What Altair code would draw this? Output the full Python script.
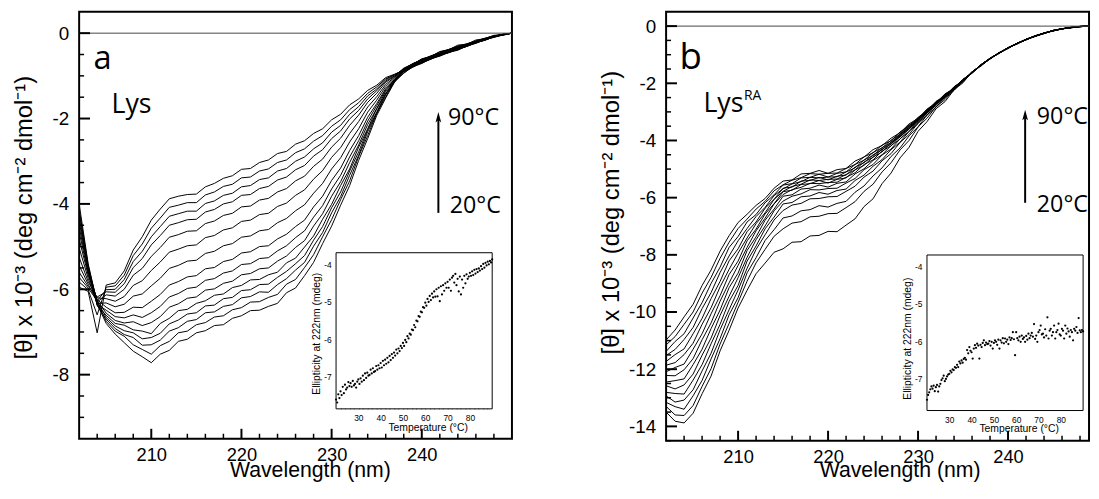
import altair as alt
import pandas as pd

# ---------------- data ----------------
wavelengths = list(range(202, 251))
temperatures = [20 + 0.5 * k for k in range(141)]

# Panel a: Lys, one spectrum per temperature (20 -> 90 C)
lys = [
    [-4.00, -5.40, -6.35, -6.80, -7.05, -7.25, -7.45, -7.58, -7.72, -7.52, -7.43, -7.22, -7.17, -7.02, -6.97, -6.85, -6.83, -6.68, -6.62, -6.50, -6.49, -6.40, -6.33, -6.08, -5.97, -5.68, -5.37, -4.93, -4.52, -4.03, -3.57, -2.98, -2.47, -1.93, -1.52, -1.14, -0.93, -0.79, -0.71, -0.60, -0.54, -0.45, -0.40, -0.30, -0.24, -0.15, -0.10, -0.04, 0.0],
    [-4.12, -5.44, -6.30, -6.75, -6.98, -7.10, -7.30, -7.41, -7.52, -7.32, -7.22, -7.02, -6.98, -6.83, -6.78, -6.65, -6.62, -6.48, -6.43, -6.30, -6.29, -6.19, -6.12, -5.88, -5.77, -5.49, -5.19, -4.77, -4.37, -3.90, -3.46, -2.89, -2.40, -1.88, -1.49, -1.12, -0.94, -0.78, -0.70, -0.61, -0.52, -0.45, -0.38, -0.31, -0.22, -0.16, -0.08, -0.04, 0.0],
    [-4.21, -5.47, -6.38, -6.70, -6.92, -7.06, -7.13, -7.31, -7.30, -7.19, -6.98, -6.90, -6.75, -6.71, -6.55, -6.53, -6.40, -6.36, -6.20, -6.17, -6.06, -6.07, -5.89, -5.75, -5.55, -5.37, -4.99, -4.67, -4.21, -3.83, -3.33, -2.86, -2.31, -1.88, -1.44, -1.14, -0.90, -0.80, -0.68, -0.61, -0.51, -0.46, -0.37, -0.31, -0.22, -0.17, -0.08, -0.05, 0.0],
    [-4.31, -5.50, -6.28, -6.66, -6.86, -6.97, -7.02, -7.16, -7.13, -7.03, -6.81, -6.72, -6.58, -6.55, -6.39, -6.37, -6.22, -6.19, -6.03, -6.01, -5.89, -5.88, -5.72, -5.58, -5.40, -5.21, -4.85, -4.53, -4.09, -3.72, -3.23, -2.78, -2.26, -1.85, -1.41, -1.13, -0.89, -0.78, -0.69, -0.59, -0.53, -0.44, -0.38, -0.29, -0.23, -0.15, -0.09, -0.03, 0.0],
    [-4.41, -5.54, -6.37, -6.61, -6.80, -6.84, -6.95, -6.98, -7.04, -6.80, -6.68, -6.50, -6.47, -6.33, -6.27, -6.14, -6.11, -5.96, -5.91, -5.78, -5.77, -5.66, -5.60, -5.38, -5.27, -5.01, -4.75, -4.36, -4.01, -3.57, -3.18, -2.67, -2.24, -1.77, -1.42, -1.10, -0.90, -0.77, -0.70, -0.58, -0.53, -0.43, -0.39, -0.29, -0.22, -0.16, -0.08, -0.04, 0.0],
    [-4.53, -5.58, -6.26, -6.56, -6.73, -6.79, -6.76, -6.85, -6.78, -6.64, -6.42, -6.34, -6.21, -6.18, -6.02, -5.99, -5.86, -5.81, -5.66, -5.63, -5.52, -5.50, -5.34, -5.22, -5.02, -4.86, -4.52, -4.23, -3.82, -3.48, -3.03, -2.62, -2.14, -1.77, -1.36, -1.11, -0.88, -0.78, -0.67, -0.60, -0.50, -0.45, -0.36, -0.31, -0.21, -0.16, -0.09, -0.03, 0.0],
    [-4.66, -5.62, -6.35, -6.49, -6.64, -6.67, -6.60, -6.66, -6.55, -6.40, -6.18, -6.10, -5.98, -5.95, -5.79, -5.75, -5.62, -5.57, -5.42, -5.40, -5.28, -5.26, -5.10, -4.98, -4.79, -4.63, -4.31, -4.04, -3.65, -3.33, -2.90, -2.52, -2.06, -1.70, -1.33, -1.09, -0.87, -0.77, -0.68, -0.58, -0.51, -0.43, -0.37, -0.29, -0.22, -0.15, -0.09, -0.04, 0.0],
    [-4.82, -5.67, -6.24, -6.42, -6.55, -6.54, -6.42, -6.43, -6.28, -6.12, -5.90, -5.82, -5.71, -5.68, -5.52, -5.49, -5.35, -5.30, -5.15, -5.12, -5.00, -4.98, -4.82, -4.71, -4.53, -4.38, -4.07, -3.82, -3.45, -3.16, -2.75, -2.40, -1.97, -1.65, -1.30, -1.08, -0.86, -0.76, -0.66, -0.59, -0.50, -0.44, -0.35, -0.30, -0.22, -0.16, -0.08, -0.04, 0.0],
    [-5.03, -5.74, -6.33, -6.32, -6.41, -6.35, -6.16, -6.11, -5.92, -5.74, -5.51, -5.44, -5.34, -5.32, -5.16, -5.11, -4.98, -4.93, -4.78, -4.75, -4.63, -4.60, -4.44, -4.34, -4.16, -4.02, -3.75, -3.52, -3.18, -2.92, -2.55, -2.24, -1.85, -1.57, -1.25, -1.05, -0.85, -0.75, -0.65, -0.57, -0.49, -0.43, -0.35, -0.28, -0.21, -0.15, -0.08, -0.03, 0.0],
    [-5.25, -5.82, -6.20, -6.22, -6.28, -6.17, -5.91, -5.80, -5.56, -5.36, -5.13, -5.06, -4.98, -4.96, -4.79, -4.74, -4.61, -4.56, -4.41, -4.38, -4.25, -4.22, -4.06, -3.98, -3.80, -3.67, -3.42, -3.22, -2.91, -2.68, -2.35, -2.07, -1.73, -1.49, -1.20, -1.03, -0.84, -0.74, -0.64, -0.56, -0.48, -0.41, -0.34, -0.27, -0.21, -0.14, -0.08, -0.03, 0.0],
    [-5.44, -5.88, -6.30, -6.13, -6.16, -6.00, -5.67, -5.51, -5.23, -5.02, -4.78, -4.72, -4.64, -4.63, -4.46, -4.40, -4.27, -4.22, -4.07, -4.05, -3.91, -3.87, -3.72, -3.64, -3.46, -3.35, -3.12, -2.95, -2.67, -2.46, -2.16, -1.92, -1.62, -1.41, -1.15, -1.01, -0.83, -0.73, -0.63, -0.55, -0.47, -0.40, -0.33, -0.27, -0.20, -0.14, -0.07, -0.03, 0.0],
    [-5.60, -5.93, -6.18, -6.06, -6.07, -5.87, -5.49, -5.28, -4.96, -4.74, -4.50, -4.44, -4.37, -4.36, -4.19, -4.13, -4.00, -3.95, -3.80, -3.78, -3.64, -3.59, -3.44, -3.37, -3.20, -3.10, -2.88, -2.73, -2.47, -2.29, -2.01, -1.81, -1.54, -1.35, -1.12, -1.00, -0.82, -0.72, -0.62, -0.54, -0.46, -0.39, -0.32, -0.26, -0.19, -0.13, -0.07, -0.03, 0.0],
    [-5.72, -5.97, -6.27, -6.01, -6.00, -5.77, -5.35, -5.11, -4.77, -4.53, -4.29, -4.23, -4.17, -4.17, -3.99, -3.93, -3.80, -3.75, -3.60, -3.57, -3.43, -3.39, -3.23, -3.17, -3.00, -2.90, -2.71, -2.57, -2.32, -2.16, -1.90, -1.72, -1.47, -1.31, -1.09, -0.98, -0.84, -0.71, -0.63, -0.53, -0.47, -0.38, -0.32, -0.25, -0.19, -0.12, -0.07, -0.02, 0.0],
    [-5.83, -6.01, -6.60, -5.95, -5.92, -5.67, -5.21, -4.94, -4.57, -4.33, -4.08, -4.03, -3.97, -3.97, -3.79, -3.72, -3.59, -3.54, -3.39, -3.37, -3.23, -3.18, -3.03, -2.97, -2.80, -2.71, -2.53, -2.40, -2.18, -2.03, -1.79, -1.63, -1.41, -1.26, -1.07, -0.97, -0.86, -0.72, -0.61, -0.54, -0.44, -0.38, -0.30, -0.25, -0.18, -0.12, -0.06, -0.03, 0.0],
    [-5.95, -6.05, -7.02, -5.90, -5.85, -5.57, -5.08, -4.77, -4.38, -4.12, -3.88, -3.82, -3.78, -3.77, -3.60, -3.52, -3.40, -3.34, -3.19, -3.17, -3.03, -2.97, -2.82, -2.77, -2.60, -2.52, -2.35, -2.24, -2.03, -1.90, -1.68, -1.54, -1.34, -1.22, -1.04, -0.96, -0.87, -0.74, -0.60, -0.55, -0.43, -0.39, -0.28, -0.26, -0.16, -0.13, -0.05, -0.04, 0.0],
]

# Panel b: LysRA
lys_ra = [
    [-13.50, -13.82, -13.88, -13.54, -12.86, -12.24, -11.36, -10.64, -9.86, -9.24, -8.66, -8.29, -7.91, -7.79, -7.56, -7.54, -7.34, -7.32, -7.18, -7.19, -6.96, -6.74, -6.31, -6.04, -5.51, -5.14, -4.61, -4.24, -3.68, -3.34, -2.89, -2.64, -2.23, -1.98, -1.60, -1.40, -1.12, -0.96, -0.75, -0.63, -0.46, -0.36, -0.24, -0.17, -0.09, -0.06, -0.01, 0.00, 0.01],
    [-13.30, -13.60, -13.62, -13.27, -12.60, -11.98, -11.12, -10.40, -9.66, -8.92, -8.28, -7.81, -7.35, -7.09, -6.89, -6.84, -6.67, -6.65, -6.56, -6.55, -6.35, -6.14, -5.78, -5.53, -5.10, -4.78, -4.33, -4.00, -3.53, -3.22, -2.82, -2.57, -2.20, -1.95, -1.61, -1.38, -1.15, -0.93, -0.78, -0.60, -0.48, -0.34, -0.26, -0.15, -0.10, -0.04, -0.02, 0.01, 0.01],
    [-13.16, -13.31, -13.40, -12.93, -12.39, -11.64, -10.93, -10.10, -9.50, -8.63, -8.10, -7.50, -7.12, -6.71, -6.64, -6.46, -6.42, -6.28, -6.33, -6.20, -6.13, -5.81, -5.59, -5.24, -4.96, -4.56, -4.26, -3.84, -3.52, -3.11, -2.84, -2.48, -2.25, -1.89, -1.65, -1.36, -1.13, -0.95, -0.76, -0.62, -0.46, -0.36, -0.24, -0.17, -0.09, -0.05, -0.01, 0.00, 0.02],
    [-12.93, -13.15, -13.08, -12.72, -12.06, -11.44, -10.62, -9.92, -9.23, -8.47, -7.81, -7.30, -6.78, -6.45, -6.26, -6.20, -6.04, -6.03, -5.97, -5.96, -5.78, -5.60, -5.28, -5.07, -4.71, -4.46, -4.07, -3.79, -3.39, -3.12, -2.74, -2.51, -2.17, -1.93, -1.61, -1.37, -1.14, -0.93, -0.77, -0.61, -0.47, -0.34, -0.25, -0.16, -0.10, -0.05, -0.02, 0.00, 0.01],
    [-12.81, -12.85, -12.87, -12.38, -11.84, -11.11, -10.43, -9.63, -9.07, -8.22, -7.69, -7.09, -6.68, -6.22, -6.17, -5.97, -5.94, -5.82, -5.88, -5.75, -5.70, -5.40, -5.21, -4.90, -4.67, -4.32, -4.06, -3.68, -3.41, -3.03, -2.78, -2.44, -2.22, -1.88, -1.64, -1.35, -1.13, -0.94, -0.76, -0.62, -0.46, -0.35, -0.24, -0.16, -0.09, -0.05, -0.01, 0.01, 0.01],
    [-12.58, -12.69, -12.55, -12.17, -11.51, -10.91, -10.12, -9.45, -8.80, -8.09, -7.47, -6.99, -6.46, -6.12, -5.95, -5.87, -5.72, -5.73, -5.68, -5.67, -5.49, -5.33, -5.02, -4.84, -4.51, -4.30, -3.94, -3.69, -3.32, -3.06, -2.70, -2.49, -2.15, -1.92, -1.61, -1.37, -1.15, -0.94, -0.78, -0.61, -0.48, -0.35, -0.26, -0.16, -0.10, -0.04, -0.02, 0.00, 0.01],
    [-12.45, -12.40, -12.34, -11.84, -11.30, -10.58, -9.93, -9.15, -8.64, -7.85, -7.37, -6.79, -6.40, -5.95, -5.90, -5.70, -5.67, -5.56, -5.63, -5.50, -5.45, -5.17, -4.99, -4.70, -4.50, -4.18, -3.95, -3.59, -3.35, -2.99, -2.74, -2.42, -2.21, -1.87, -1.64, -1.35, -1.12, -0.95, -0.76, -0.60, -0.47, -0.36, -0.25, -0.15, -0.09, -0.06, -0.02, 0.01, 0.02],
    [-12.22, -12.23, -12.02, -11.63, -10.97, -10.38, -9.62, -8.98, -8.37, -7.74, -7.16, -6.72, -6.22, -5.89, -5.72, -5.64, -5.50, -5.51, -5.47, -5.46, -5.29, -5.13, -4.84, -4.68, -4.37, -4.19, -3.84, -3.61, -3.26, -3.03, -2.67, -2.47, -2.14, -1.91, -1.60, -1.37, -1.14, -0.93, -0.77, -0.62, -0.47, -0.34, -0.25, -0.17, -0.10, -0.05, -0.01, 0.00, 0.01],
    [-12.09, -11.94, -11.82, -11.30, -10.76, -10.06, -9.43, -8.69, -8.22, -7.51, -7.10, -6.57, -6.21, -5.79, -5.74, -5.54, -5.51, -5.40, -5.49, -5.36, -5.31, -5.03, -4.87, -4.58, -4.40, -4.10, -3.88, -3.54, -3.31, -2.96, -2.72, -2.40, -2.20, -1.87, -1.64, -1.35, -1.13, -0.95, -0.76, -0.61, -0.48, -0.35, -0.24, -0.16, -0.09, -0.05, -0.02, 0.01, 0.01],
    [-11.86, -11.77, -11.49, -11.09, -10.43, -9.85, -9.12, -8.51, -7.94, -7.41, -6.91, -6.53, -6.06, -5.78, -5.61, -5.53, -5.38, -5.40, -5.36, -5.35, -5.19, -5.03, -4.75, -4.59, -4.30, -4.13, -3.79, -3.58, -3.24, -3.01, -2.66, -2.46, -2.14, -1.91, -1.60, -1.37, -1.15, -0.94, -0.78, -0.60, -0.46, -0.36, -0.26, -0.15, -0.10, -0.04, -0.02, 0.00, 0.02],
    [-11.73, -11.49, -11.29, -10.76, -10.22, -9.53, -8.93, -8.21, -7.79, -7.19, -6.85, -6.37, -6.06, -5.67, -5.63, -5.42, -5.40, -5.29, -5.38, -5.25, -5.21, -4.93, -4.78, -4.50, -4.33, -4.05, -3.83, -3.50, -3.29, -2.94, -2.71, -2.39, -2.19, -1.87, -1.63, -1.35, -1.13, -0.93, -0.77, -0.61, -0.47, -0.35, -0.25, -0.16, -0.09, -0.06, -0.01, 0.01, 0.01],
    [-11.52, -11.31, -10.96, -10.54, -9.88, -9.32, -8.62, -8.04, -7.51, -7.08, -6.66, -6.34, -5.93, -5.69, -5.52, -5.44, -5.29, -5.31, -5.28, -5.27, -5.10, -4.96, -4.68, -4.53, -4.25, -4.08, -3.76, -3.55, -3.22, -2.99, -2.65, -2.45, -2.13, -1.91, -1.60, -1.37, -1.14, -0.94, -0.76, -0.62, -0.46, -0.34, -0.24, -0.17, -0.10, -0.05, -0.02, 0.00, 0.01],
    [-11.38, -11.03, -10.76, -10.21, -9.67, -9.00, -8.43, -7.74, -7.36, -6.85, -6.59, -6.18, -5.90, -5.56, -5.51, -5.31, -5.29, -5.18, -5.28, -5.15, -5.10, -4.84, -4.69, -4.42, -4.26, -3.99, -3.79, -3.46, -3.26, -2.92, -2.70, -2.38, -2.19, -1.86, -1.64, -1.35, -1.12, -0.95, -0.77, -0.60, -0.48, -0.35, -0.25, -0.15, -0.09, -0.05, -0.01, 0.01, 0.02],
    [-11.15, -10.86, -10.43, -10.00, -9.34, -8.79, -8.12, -7.56, -7.08, -6.75, -6.40, -6.13, -5.76, -5.55, -5.39, -5.30, -5.16, -5.18, -5.15, -5.14, -4.98, -4.84, -4.57, -4.43, -4.16, -4.01, -3.70, -3.50, -3.19, -2.97, -2.63, -2.44, -2.12, -1.90, -1.60, -1.37, -1.14, -0.93, -0.76, -0.61, -0.47, -0.36, -0.26, -0.16, -0.10, -0.04, -0.02, 0.00, 0.01],
    [-10.98, -10.63, -10.17, -9.73, -9.07, -8.53, -7.87, -7.33, -6.87, -6.58, -6.27, -6.03, -5.67, -5.42, -5.38, -5.17, -5.15, -5.05, -5.15, -5.02, -4.98, -4.72, -4.58, -4.32, -4.18, -3.92, -3.73, -3.42, -3.23, -2.90, -2.68, -2.37, -2.18, -1.86, -1.64, -1.35, -1.13, -0.94, -0.75, -0.60, -0.46, -0.34, -0.24, -0.16, -0.09, -0.05, -0.01, 0.01, 0.02],
]

# Insets: ellipticity at 222 nm (mdeg) vs temperature
lys_inset = [
    -7.62, -7.70, -7.48, -7.58, -7.40, -7.50, -7.28, -7.45, -7.22, -7.35,
    -7.30, -7.15, -7.26, -7.18, -7.28, -7.12, -7.24, -7.20, -7.30, -7.14,
    -7.08, -7.20, -7.05, -7.14, -6.98, -7.10, -6.92, -7.04, -6.90, -6.98,
    -6.96, -6.82, -6.92, -6.78, -6.88, -6.86, -6.72, -6.82, -6.70, -6.78,
    -6.64, -6.76, -6.58, -6.70, -6.55, -6.66, -6.50, -6.62, -6.45, -6.56,
    -6.40, -6.50, -6.36, -6.44, -6.28, -6.38, -6.25, -6.32, -6.18, -6.24,
    -6.10, -6.18, -6.02, -6.08, -5.92, -5.98, -5.85, -5.88, -5.74, -5.76,
    -5.62, -5.68, -5.50, -5.52, -5.38, -5.40, -5.26, -5.28, -5.14, -5.16,
    -5.02, -5.10, -4.92, -5.00, -4.84, -4.95, -4.78, -4.88, -4.72, -4.86,
    -4.66, -4.85, -4.62, -4.98, -4.58, -4.80, -4.55, -4.70, -4.50, -4.62,
    -4.46, -4.62, -4.40, -4.70, -4.35, -4.30, -4.48, -4.25, -4.55, -4.38,
    -4.72, -4.32, -4.80, -4.40, -4.62, -4.30, -4.50, -4.26, -4.38, -4.32,
    -4.22, -4.30, -4.18, -4.28, -4.14, -4.24, -4.12, -4.20, -4.10, -4.16,
    -4.04, -4.12, -3.98, -4.08, -3.95, -4.02, -3.92, -3.99, -3.90, -3.94,
    -3.86,
]
lys_ra_inset = [
    -7.58, -7.45, -7.38, -7.30, -7.22, -7.28, -7.20, -7.35, -7.24, -7.18,
    -7.36, -7.22, -7.15, -7.05, -7.00, -6.93, -7.08, -7.02, -6.95, -6.90,
    -6.88, -6.80, -6.84, -6.76, -6.78, -6.70, -6.72, -6.64, -6.70, -6.55,
    -6.60, -6.52, -6.58, -6.48, -6.45, -6.50, -6.24, -6.33, -6.16, -6.26,
    -6.30, -6.47, -6.20, -6.11, -6.18, -6.07, -6.12, -6.47, -6.10, -6.16,
    -6.05, -5.98, -6.11, -6.04, -6.08, -6.07, -6.00, -6.12, -6.02, -6.20,
    -6.05, -5.98, -6.02, -6.10, -5.96, -6.20, -5.98, -6.04, -5.92, -6.06,
    -5.93, -6.02, -5.96, -6.08, -5.90, -5.97, -5.92, -5.76, -5.95, -6.38,
    -5.76, -5.92, -5.98, -5.88, -6.02, -5.85, -5.94, -5.90, -6.02, -5.86,
    -5.96, -5.80, -5.92, -5.85, -5.78, -5.88, -5.54, -5.94, -5.85, -6.02,
    -5.76, -5.70, -5.58, -5.82, -5.80, -5.90, -5.68, -5.85, -5.36, -5.93,
    -5.72, -5.67, -5.85, -5.76, -5.58, -5.93, -5.76, -5.70, -5.53, -5.82,
    -5.85, -5.67, -5.72, -5.93, -5.58, -5.80, -5.66, -5.74, -5.88, -5.70,
    -5.76, -5.98, -5.67, -5.72, -5.62, -5.78, -5.38, -5.71, -5.76, -5.70,
    -5.74,
]

x_major = [210, 220, 230, 240]
x_minor = [204, 206, 208, 212, 214, 216, 218, 222, 224, 226, 228, 232, 234, 236, 238, 242, 244, 246, 248]
inset_x_ticks = list(range(22, 90, 2))
inset_y_ticks = [-7.8, -7.6, -7.4, -7.2, -7.0, -6.8, -6.6, -6.4, -6.2, -6.0, -5.8, -5.6,
                 -5.4, -5.2, -5.0, -4.8, -4.6, -4.4, -4.2, -4.0, -3.8]

Y_TITLE = "[\u03b8] x 10\u207b\u00b3 (deg cm\u207b\u00b2 dmol\u207b\u00b9)"
SANS = "Liberation Sans"
HUM = "Open Sans"
ARROW = "M0,-1L0.55,1L0,0.55L-0.55,1Z"


def curves_df(curves, max_wl):
    rows = []
    for i, c in enumerate(curves):
        if len(c) != len(wavelengths):
            raise ValueError(f"curve {i} has {len(c)} points")
        for w, v in zip(wavelengths, c):
            if w <= max_wl:  # keep only the visible wavelength window
                rows.append({"wl": w, "val": v, "curve": i})
    return pd.DataFrame(rows)


def make_panel(curves, inset_vals, cfg):
    W, H = cfg["width"], cfg["height"]

    def xs():
        return alt.Scale(domain=cfg["xdom"], nice=False, zero=False)

    def ys():
        return alt.Scale(domain=cfg["ydom"], nice=False, zero=False)

    x_axis = alt.Axis(values=x_major, ticks=False, tickSize=0, domain=False, grid=False,
                      labelFont=SANS, labelFontSize=18.5, labelPadding=7, labelColor="black",
                      labelFlush=False, labelOverlap=False,
                      title="Wavelength (nm)", titleFont=SANS, titleFontSize=21.5,
                      titleFontWeight="normal", titleColor="black",
                      titleX=cfg["xtitle_x"], titleY=cfg["xtitle_y"])
    y_axis = alt.Axis(values=cfg["ylabels"], ticks=False, tickSize=0, domain=False, grid=False,
                      labelFont=SANS, labelFontSize=19, labelPadding=10.5, labelColor="black",
                      labelFlush=False, labelOverlap=False,
                      labelExpr="datum.value == 0 ? '0' : '-' + format(abs(datum.value), 'd')",
                      title=Y_TITLE, titleFont=SANS, titleFontSize=24, titleFontWeight="normal",
                      titleColor="black", titleX=-43, titleY=cfg["ytitle_y"])

    lines = alt.Chart(curves_df(curves, cfg["xdom"][1])).mark_line(
        color="black", strokeWidth=1, clip=True).encode(
        x=alt.X("wl:Q", scale=xs(), axis=x_axis),
        y=alt.Y("val:Q", scale=ys(), axis=y_axis),
        detail="curve:N",
    )
    zero = alt.Chart(pd.DataFrame({"z": [0]})).mark_rule(color="#444444", strokeWidth=1).encode(
        y=alt.Y("z:Q", scale=ys(), axis=None))

    def yticks(vals, length, sw):
        return alt.Chart(pd.DataFrame({"t": vals})).mark_rule(color="black", strokeWidth=sw).encode(
            y=alt.Y("t:Q", scale=ys(), axis=None), x=alt.value(0), x2=alt.value(length))

    def xticks(vals, length, sw):
        return alt.Chart(pd.DataFrame({"t": vals})).mark_rule(color="black", strokeWidth=sw).encode(
            x=alt.X("t:Q", scale=xs(), axis=None), y=alt.value(H), y2=alt.value(H - length))

    texts = alt.Chart(pd.DataFrame(cfg["texts"])).mark_text(
        align="left", baseline="alphabetic", font=HUM, color="black").encode(
        x=alt.X("wl:Q", scale=xs(), axis=None), y=alt.Y("val:Q", scale=ys(), axis=None),
        text="label:N", size=alt.Size("fs:Q", scale=None))

    adf = pd.DataFrame([cfg["arrow"]])
    shaft = alt.Chart(adf).mark_rule(color="black", strokeWidth=2).encode(
        x=alt.X("wl:Q", scale=xs(), axis=None), y=alt.Y("y0:Q", scale=ys(), axis=None), y2="y1:Q")
    head = alt.Chart(adf).mark_point(shape=ARROW, filled=True, size=110, color="black",
                                     opacity=1, strokeWidth=0).encode(
        x=alt.X("wl:Q", scale=xs(), axis=None), y=alt.Y("yh:Q", scale=ys(), axis=None))

    # inset
    def ixs():
        return alt.Scale(domain=[20, 90], range=cfg["ixr"], nice=False, zero=False)

    def iys():
        return alt.Scale(domain=[-7.87, -3.68], range=cfg["iyr"], nice=False, zero=False)

    ix_axis = alt.Axis(orient="bottom", offset=cfg["ixr_off"], values=inset_x_ticks,
                       labelExpr="datum.value % 10 == 0 ? format(datum.value, 'd') : ''",
                       tickSize=3, tickColor="black", tickWidth=0.8, domain=False, grid=False,
                       labelFont=SANS, labelFontSize=8.5, labelPadding=5, labelColor="black",
                       labelFlush=False, labelOverlap=False,
                       title="Temperature (\u00b0C)", titleFont=SANS, titleFontSize=10.5,
                       titleFontWeight="normal", titleColor="black",
                       titleX=cfg["ititle_x"], titleY=16.5)
    iy_axis = alt.Axis(orient="left", offset=cfg["iyr_off"], values=inset_y_ticks,
                       labelExpr="abs(datum.value - round(datum.value)) < 0.01 ? '-' + format(abs(datum.value), 'd') : ''",
                       tickSize=3, tickColor="black", tickWidth=0.8, domain=False, grid=False,
                       labelFont=SANS, labelFontSize=8.5, labelPadding=5, labelColor="black",
                       labelFlush=False, labelOverlap=False,
                       title="Ellipticity at 222nm (mdeg)", titleFont=SANS, titleFontSize=10.5,
                       titleFontWeight="normal", titleColor="black",
                       titleX=-18, titleY=cfg["ititle_y"])
    frame = alt.Chart(pd.DataFrame({"t0": [20], "t1": [90], "e0": [-7.87], "e1": [-3.68]})).mark_rect(
        fill="white", stroke="black", strokeWidth=1).encode(
        x=alt.X("t0:Q", scale=ixs(), axis=None), x2="t1:Q",
        y=alt.Y("e0:Q", scale=iys(), axis=None), y2="e1:Q")
    if len(inset_vals) != len(temperatures):
        raise ValueError("inset length mismatch")
    pts = alt.Chart(pd.DataFrame({"T": temperatures, "E": inset_vals})).mark_circle(
        size=5, color="black", opacity=1).encode(
        x=alt.X("T:Q", scale=ixs(), axis=ix_axis), y=alt.Y("E:Q", scale=iys(), axis=iy_axis))

    layers = [lines, zero,
              yticks(cfg["ymajor"], 11, 2), yticks(cfg["yminor"], 5, 1.5),
              xticks(x_major, 10, 2), xticks([t for t in x_minor if t < cfg["xdom"][1]], 5, 1.5),
              texts, shaft, head, frame, pts]
    return alt.layer(*layers).resolve_scale(x="independent", y="independent").resolve_axis(
        x="independent", y="independent").properties(width=W, height=H)


cfg_a = dict(
    width=438, height=432, xdom=[202, 250], ydom=[-9.5, 0.5], ylabels=[0, -2, -4, -6, -8],
    ymajor=[0, -2, -4, -6, -8],
    yminor=[-0.5, -1, -1.5, -2.5, -3, -3.5, -4.5, -5, -5.5, -6.5, -7, -7.5, -8.5, -9],
    ytitle_y=207.8, xtitle_x=233.5, xtitle_y=20.8,
    texts=[
        {"wl": 203.6, "val": -0.85, "label": "a", "fs": 33},
        {"wl": 205.6, "val": -1.87, "label": "Lys", "fs": 27},
        {"wl": 242.9, "val": -2.15, "label": "90\u00b0C", "fs": 23.5},
        {"wl": 243.1, "val": -4.21, "label": "20\u00b0C", "fs": 23.5},
    ],
    arrow={"wl": 241.84, "y0": -4.21, "y1": -2.0, "yh": -1.97},
    ixr=[260, 418], iyr=[401.8, 243.8], ixr_off=-33.2, iyr_off=-263,
    ititle_x=352.7, ititle_y=325.3,
)
cfg_b = dict(
    width=428, height=434, xdom=[202, 249], ydom=[-14.5, 0.5],
    ylabels=[0, -2, -4, -6, -8, -10, -12, -14],
    ymajor=[0, -2, -4, -6, -8, -10, -12, -14],
    yminor=[-0.5, -1, -1.5, -2.5, -3, -3.5, -4.5, -5, -5.5, -6.5, -7, -7.5, -8.5, -9, -9.5,
            -10.5, -11, -11.5, -12.5, -13, -13.5, -14.5],
    ytitle_y=202.8, xtitle_x=236.3, xtitle_y=18.8,
    texts=[
        {"wl": 203.5, "val": -1.49, "label": "b", "fs": 37},
        {"wl": 206.15, "val": -3.0, "label": "Lys", "fs": 27},
        {"wl": 210.65, "val": -2.6, "label": "RA", "fs": 14},
        {"wl": 243.2, "val": -3.41, "label": "90\u00b0C", "fs": 23.5},
        {"wl": 243.2, "val": -6.49, "label": "20\u00b0C", "fs": 23.5},
    ],
    arrow={"wl": 241.9, "y0": -6.18, "y1": -3.15, "yh": -3.11},
    ixr=[264, 422], iyr=[403.5, 246.1], ixr_off=-33.5, iyr_off=-267,
    ititle_x=356.8, ititle_y=330.3,
)

panel_a = make_panel(lys, lys_inset, cfg_a)
panel_b = make_panel(lys_ra, lys_ra_inset, cfg_b)

chart = alt.hconcat(panel_a, panel_b, spacing=86).properties(
    padding={"left": 4, "top": 0, "right": 0, "bottom": 0}
).configure_view(stroke="black", strokeWidth=2).configure_axis(grid=False)

chart.save("out.html", embed_options={"renderer": "svg", "actions": False})
